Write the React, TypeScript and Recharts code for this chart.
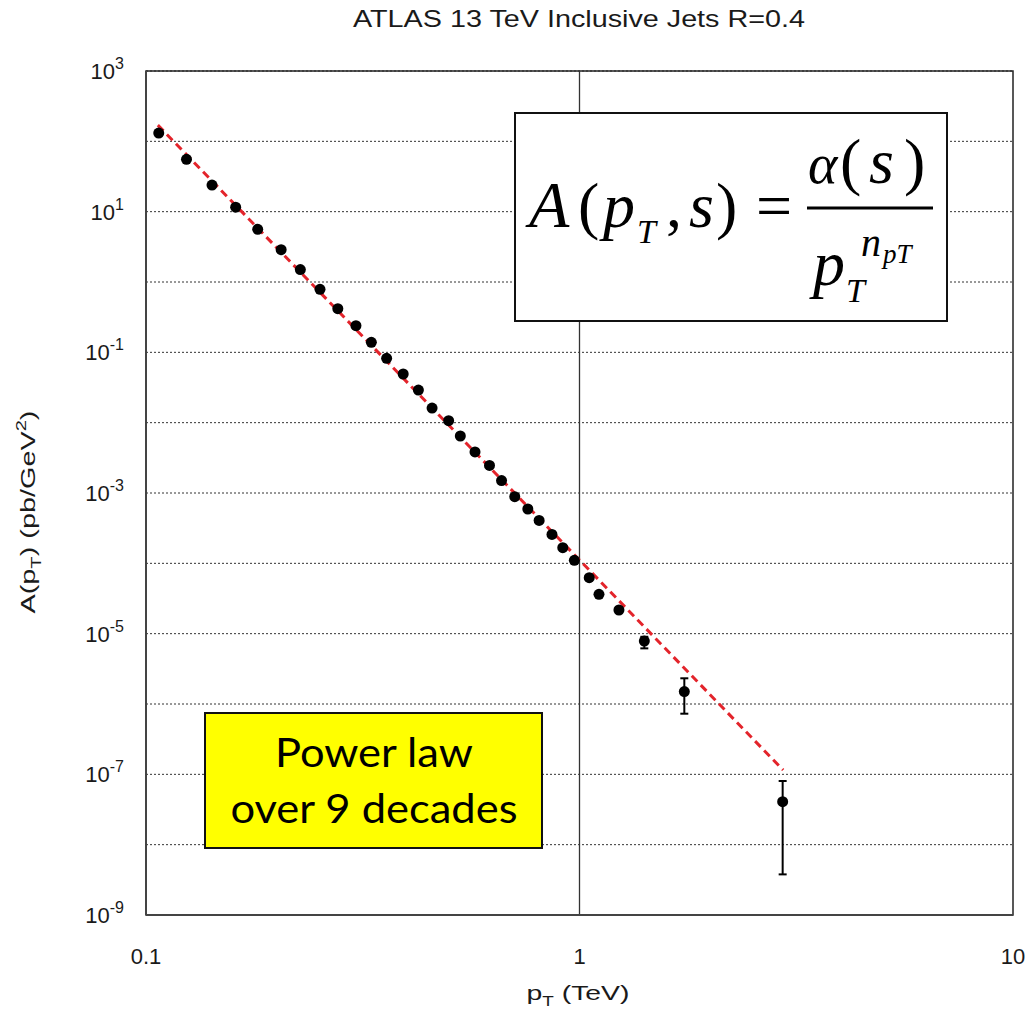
import {
  ComposedChart,
  Scatter,
  XAxis,
  YAxis,
  CartesianGrid,
  ReferenceLine,
  ReferenceArea,
  ErrorBar,
} from 'recharts'

// ─── data ──────────────────────────────────────

// jet pT (TeV) and A(pT) (pb/GeV^2), points without visible error bars
const ptValues = [
  0.107, 0.124, 0.142, 0.161, 0.181, 0.205, 0.227, 0.252, 0.277, 0.305,
  0.331, 0.359, 0.392, 0.425, 0.457, 0.499, 0.531, 0.574, 0.62, 0.661,
  0.709, 0.76, 0.807, 0.864, 0.915, 0.973, 1.053, 1.109, 1.233,
]
const aValues = [
  131, 55.5, 23.9, 11.6, 5.61, 2.88, 1.5, 0.787, 0.417, 0.239,
  0.139, 0.0822, 0.0492, 0.0291, 0.01615, 0.01066, 0.00646, 0.00383, 0.00247, 0.0015,
  0.000885, 0.000592, 0.000408, 0.000258, 0.000167, 0.0001104, 6.25e-5, 3.62e-5, 2.17e-5,
]

// last points, with error bars (lower / upper bounds)
const errPt = [1.411, 1.745, 2.942]
const errA = [7.85e-6, 1.5e-6, 4.08e-8]
const errLow = [6.18e-6, 7.28e-7, 3.78e-9]
const errHigh = [9.03e-6, 2.32e-6, 8.04e-8]

// dashed power-law fit, endpoints
const fitPt = [0.1065, 2.95]
const fitA = [170, 1.15e-7]

const xMajor = [0.1, 1, 10]
const xLabels = ['0.1', '1', '10']
const yMajor = [1e3, 1e2, 1e1, 1, 1e-1, 1e-2, 1e-3, 1e-4, 1e-5, 1e-6, 1e-7, 1e-8, 1e-9]

const minorTicks = (lo: number, hi: number) => {
  const out: number[] = []
  for (let k = lo; k < hi; k++) {
    for (let m = 1; m < 10; m++) out.push(m * Math.pow(10, k))
  }
  out.push(Math.pow(10, hi))
  return out
}
const xMinor = minorTicks(-1, 1)
const yMinor = minorTicks(-9, 3)

const points = ptValues.map((pt, i) => ({ pt, a: aValues[i] }))
const errPoints = errPt.map((pt, i) => ({
  pt,
  a: errA[i],
  err: [errA[i] - errLow[i], errHigh[i] - errA[i]],
}))
const fitLine = fitPt.map((pt, i) => ({ pt, a: fitA[i] }))

const sans = '"Liberation Sans", Arial, sans-serif'
const serif = '"Liberation Serif", "Times New Roman", serif'
const note = 'Lato, "Open Sans", sans-serif'

function YTick(props: any) {
  const { x, y, payload } = props
  const e = Math.round(Math.log10(payload.value))
  if (Math.abs(e % 2) !== 1) return <g />
  return (
    <text x={x} y={y + 8} textAnchor="end" fontFamily={sans} fontSize={22} fill="#1a1a1a">
      10
      <tspan dy={-10} fontSize={16}>{e}</tspan>
    </text>
  )
}

function XTick(props: any) {
  const { x, y, payload } = props
  const i = xMajor.indexOf(payload.value)
  return (
    <text x={x} y={y + 16} textAnchor="middle" fontFamily={sans} fontSize={22} fill="#1a1a1a">
      {xLabels[i] ?? ''}
    </text>
  )
}

const dot = (p: any) => <circle cx={p.cx} cy={p.cy} r={5.5} fill="#000" />

export default function App() {
  return (
    <div style={{ position: 'absolute', left: 0, top: 0, width: 1030, height: 1013, background: '#fff' }}>
      <ComposedChart
        width={1030}
        height={1013}
        margin={{ top: 71, right: 17, left: 0, bottom: 38 }}
      >
        <CartesianGrid
          vertical={false}
          stroke="#333"
          strokeDasharray="2 2"
        />
        <XAxis
          dataKey="pt"
          type="number"
          scale="log"
          domain={[0.1, 10]}
          allowDataOverflow
          ticks={xMajor}
          interval={0}
          height={60}
          tickLine={false}
          tickSize={6}
          tickMargin={27}
          axisLine={{ stroke: '#444', strokeWidth: 2 }}
          tick={XTick}
        />
        <YAxis
          dataKey="a"
          type="number"
          scale="log"
          domain={[1e-9, 1e3]}
          allowDataOverflow
          ticks={yMajor}
          interval={0}
          width={146}
          tickLine={false}
          tickSize={6}
          tickMargin={16}
          axisLine={{ stroke: '#444', strokeWidth: 2 }}
          tick={YTick}
        />
        {/* inward minor ticks on all four sides */}
        <XAxis xAxisId="mb" type="number" scale="log" domain={[0.1, 10]} allowDataOverflow ticks={xMinor} interval={0}
          orientation="bottom" mirror height={10} tick={false} tickSize={5} axisLine={false} tickLine={{ stroke: '#333' }} />
        <XAxis xAxisId="mt" type="number" scale="log" domain={[0.1, 10]} allowDataOverflow ticks={xMinor} interval={0}
          orientation="top" mirror height={10} tick={false} tickSize={5} axisLine={false} tickLine={{ stroke: '#333' }} />
        <YAxis yAxisId="ml" type="number" scale="log" domain={[1e-9, 1e3]} allowDataOverflow ticks={yMinor} interval={0}
          orientation="left" mirror width={10} tick={false} tickSize={5} axisLine={false} tickLine={{ stroke: '#333' }} />
        <YAxis yAxisId="mr" type="number" scale="log" domain={[1e-9, 1e3]} allowDataOverflow ticks={yMinor} interval={0}
          orientation="right" mirror width={10} tick={false} tickSize={5} axisLine={false} tickLine={{ stroke: '#333' }} />

        <ReferenceLine x={1} stroke="#333" strokeWidth={1.3} />
        <ReferenceArea x1={0.1} x2={10} y1={1e-9} y2={1e3} fill="none" stroke="#222" strokeWidth={1.5} />

        <Scatter
          data={fitLine}
          line={{ stroke: '#e3242b', strokeWidth: 3, strokeDasharray: '8 5' }}
          shape={() => <g />}
          isAnimationActive={false}
        />
        <Scatter data={points} shape={dot} isAnimationActive={false} />
        <Scatter data={errPoints} shape={dot} isAnimationActive={false}>
          <ErrorBar dataKey="err" direction="y" width={4} strokeWidth={2} stroke="#000" isAnimationActive={false} />
        </Scatter>
      </ComposedChart>

      <svg
        width={1030}
        height={1013}
        style={{ position: 'absolute', left: 0, top: 0, pointerEvents: 'none' }}
      >
        {/* title and axis titles */}
        <text x={579} y={27} textAnchor="middle" fontFamily={sans} fontSize={24} fill="#1a1a1a"
          textLength={452} lengthAdjust="spacingAndGlyphs">
          ATLAS 13 TeV Inclusive Jets R=0.4
        </text>
        <text transform="translate(35,512) rotate(-90)" textAnchor="middle" fontFamily={sans} fontSize={20} fill="#1a1a1a"
          textLength={203} lengthAdjust="spacingAndGlyphs">
          A(p<tspan dy={6} fontSize={14}>T</tspan>
          <tspan dy={-6}>) (pb/GeV</tspan>
          <tspan dy={-9} fontSize={14}>2</tspan>
          <tspan dy={9}>)</tspan>
        </text>
        <text x={578} y={1000} textAnchor="middle" fontFamily={sans} fontSize={21} fill="#1a1a1a"
          textLength={103} lengthAdjust="spacingAndGlyphs">
          p<tspan dy={6} fontSize={14}>T</tspan>
          <tspan dy={-6}> (TeV)</tspan>
        </text>

        {/* formula box */}
        <rect x={515} y={113} width={432} height={208} fill="#fff" stroke="#111" strokeWidth={2} />
        <g fontFamily={serif} fill="#000">
          <text x={529} y={227} fontSize={66} fontStyle="italic">A</text>
          <text x={578} y={227} fontSize={64}>(</text>
          <text x={603} y={227} fontSize={64} fontStyle="italic">p</text>
          <text x={637} y={243} fontSize={34} fontStyle="italic">T</text>
          <text x={666} y={227} fontSize={64}>,</text>
          <text x={689} y={227} fontSize={64} fontStyle="italic">s</text>
          <text x={716} y={227} fontSize={64}>)</text>
          <text x={756} y={227} fontSize={64}>=</text>
          <line x1={807} x2={933} y1={208} y2={208} stroke="#000" strokeWidth={3} />
          <text x={808} y={183} fontSize={56} fontStyle="italic">α</text>
          <text x={840} y={183} fontSize={64}>(</text>
          <text x={869} y={183} fontSize={64} fontStyle="italic">s</text>
          <text x={904} y={183} fontSize={64}>)</text>
          <text x={813} y={285} fontSize={64} fontStyle="italic">p</text>
          <text x={846} y={302} fontSize={34} fontStyle="italic">T</text>
          <text x={861} y={256} fontSize={40} fontStyle="italic">n</text>
          <text x={883} y={263} fontSize={27} fontStyle="italic">pT</text>
        </g>

        {/* yellow note */}
        <rect x={205} y={713} width={337} height={135} fill="#ffff00" stroke="#111" strokeWidth={2} />
        <text x={374} y={767} textAnchor="middle" fontFamily={note} fontSize={40} fill="#000"
          textLength={198} lengthAdjust="spacingAndGlyphs">
          Power law
        </text>
        <text x={374} y={823} textAnchor="middle" fontFamily={note} fontSize={40} fill="#000"
          textLength={287} lengthAdjust="spacingAndGlyphs">
          over 9 decades
        </text>
      </svg>
    </div>
  )
}
